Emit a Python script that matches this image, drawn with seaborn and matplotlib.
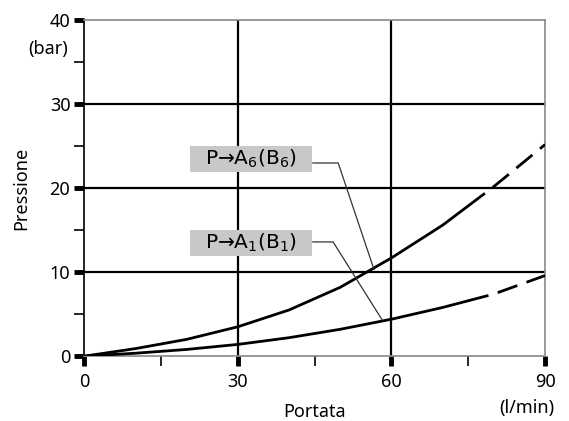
import matplotlib
matplotlib.use("Agg")
import matplotlib.pyplot as plt
from matplotlib.patches import Rectangle
import seaborn as sns
import pandas as pd

# Data
flow = [0, 10, 20, 30, 40, 50, 60, 70, 75, 80, 90]
p_a6 = [0, 0.9, 2.0, 3.5, 5.5, 8.2, 11.7, 15.6, 17.9, 20.2, 25.2]
p_a1 = [0, 0.35, 0.8, 1.4, 2.2, 3.2, 4.4, 5.8, 6.6, 7.4, 9.6]
solid_until = 75

labels = ["P→A$_6$(B$_6$)", "P→A$_1$(B$_1$)"]
label_box = [(20.7, 21.9), (20.7, 11.9)]   # lower-left corner of grey box
box_w, box_h = 23.8, 3.1
leader_x = [[44.6, 49.6, 56.6], [44.6, 48.6, 58.2]]
leader_y = [[23.0, 23.0, 10.3], [13.6, 13.6, 4.3]]

x_major = [0, 30, 60, 90]
x_minor = [15, 45, 75]
y_major = [0, 10, 20, 30, 40]
y_minor = [5, 15, 25, 35]

sns.set_style("white")
plt.rcParams["font.family"] = ["Noto Sans", "DejaVu Sans"]
plt.rcParams["mathtext.default"] = "regular"
plt.rcParams["text.color"] = "black"
plt.rcParams["axes.labelcolor"] = "black"
plt.rcParams["xtick.color"] = "black"
plt.rcParams["ytick.color"] = "black"

fs = 13

fig = plt.figure(figsize=(5.69, 4.21), dpi=100)
ax = fig.add_axes([0.148, 0.154, 0.81, 0.798])

# grid lines (only inner ones)
for gx in x_major[1:-1]:
    ax.axvline(gx, color="black", lw=1.6, zorder=1)
for gy in y_major[1:-1]:
    ax.axhline(gy, color="black", lw=1.6, zorder=1)

# curves: solid part then dashed extrapolation
for vals in [p_a6, p_a1]:
    df = pd.DataFrame({"flow": flow, "p": vals})
    sns.lineplot(data=df[df.flow <= solid_until], x="flow", y="p", ax=ax,
                 color="black", lw=2, zorder=3)
    sns.lineplot(data=df[df.flow >= solid_until], x="flow", y="p", ax=ax,
                 color="black", lw=2, zorder=3, dashes=False,
                 linestyle=(0, (7.5, 3.5)))

# labels in grey boxes with leader lines
for lab, (bx, by), lx, ly in zip(labels, label_box, leader_x, leader_y):
    ax.add_patch(Rectangle((bx, by), box_w, box_h, fc="#c8c8c8", ec="none",
                           zorder=4))
    ax.text(bx + box_w / 2, by + box_h / 2 + 0.1, lab, ha="center",
            va="center", fontsize=14.5, zorder=5, family="DejaVu Sans")
    ax.plot(lx, ly, color="#333333", lw=0.9, zorder=4)

ax.set_xlim(0, 90)
ax.set_ylim(0, 40)
ax.set_xticks(x_major)
ax.set_xticks(x_minor, minor=True)
ax.set_yticks(y_major)
ax.set_yticks(y_minor, minor=True)
ax.tick_params(bottom=True, left=True, which="both")
ax.tick_params(axis="both", which="major", direction="out", length=7,
               width=3.5, labelsize=fs, pad=3)
ax.tick_params(axis="both", which="minor", direction="out", length=7,
               width=1.2)
ax.tick_params(axis="x", which="major", pad=5)

for side in ["top", "right", "bottom"]:
    ax.spines[side].set_color("#888888")
    ax.spines[side].set_linewidth(1.2)
ax.spines["left"].set_color("black")
ax.spines["left"].set_linewidth(1.2)

ax.set_xlabel("Portata", fontsize=fs, labelpad=9)
ax.set_ylabel("Pressione", fontsize=fs, labelpad=14)
ax.text(-0.035, 0.915, "(bar)", transform=ax.transAxes, ha="right",
        va="center", fontsize=fs)
ax.text(1.02, -0.155, "(l/min)", transform=ax.transAxes, ha="right",
        va="center", fontsize=fs)

fig.savefig("out.png", dpi=100)
